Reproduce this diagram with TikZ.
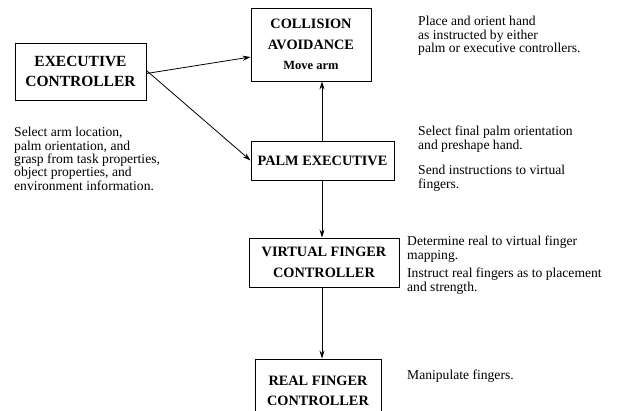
\documentclass[tikz,border=0pt]{standalone}
\usepackage{fontspec}
\setmainfont{Liberation Serif}
\usetikzlibrary{arrows.meta}
\begin{document}
\begin{tikzpicture}[x=1pt,y=-1pt,
  box/.style={draw,line width=0.9pt,align=center,inner sep=0pt,font=\bfseries\fontsize{14.3}{20.5}\selectfont},
  desc/.style={anchor=north west,align=left,inner sep=0pt,font=\fontsize{13.6}{13.4}\selectfont},
  arr/.style={line width=0.8pt,-{Stealth[length=8pt,width=5pt]}}]
\useasboundingbox (0,0) rectangle (624,411);
\clip (0,0) rectangle (624,411);
\node[box,minimum width=131pt,minimum height=57pt,font=\bfseries\fontsize{15.5}{20}\selectfont] (exec) at (80.5,71.5) {EXECUTIVE\\CONTROLLER};
\node[box,minimum width=120pt,minimum height=73pt] (coll) at (311,44.5) {COLLISION\\AVOIDANCE\\{\fontsize{12.5}{15}\selectfont Move arm}};
\node[box,minimum width=143pt,minimum height=39pt] (palm) at (322.5,160.5) {PALM EXECUTIVE};
\node[box,minimum width=150pt,minimum height=49pt] (virt) at (324,262.5) {VIRTUAL FINGER\\CONTROLLER};
\node[box,minimum width=126pt,minimum height=64pt] (real) at (318,391) {REAL FINGER\\CONTROLLER};
\draw[arr] ([yshift=-2pt]exec.east) -- ([yshift=-12.5pt]coll.west);
\draw[arr] ([yshift=1pt]exec.east) -- (palm.west);
\coordinate (pt) at ([xshift=-0.5pt]palm.north);
\draw[arr] (pt) -- (pt |- coll.south);
\coordinate (pb) at ([xshift=-0.5pt]palm.south);
\draw[arr] (pb) -- (pb |- virt.north);
\coordinate (vb) at (pb |- virt.south);
\draw[arr] (vb) -- (vb |- real.north);
\node[desc] (d1) at (14,127) {Select arm location,\\palm orientation, and\\grasp from task properties,\\object properties, and\\environment information.};
\node[desc] (d2) at (418,16) {Place and orient hand\\as instructed by either\\palm or executive controllers.};
\node[desc] (d3) at (418,126) {Select final palm orientation\\and preshape hand.};
\node[desc] (d4) at (418,165) {Send instructions to virtual\\fingers.};
\node[desc] (d5) at (407,236) {Determine real to virtual finger\\mapping.};
\node[desc] (d6) at (407,268) {Instruct real fingers as to placement\\and strength.};
\node[desc] (d7) at (407,370) {Manipulate fingers.};
\end{tikzpicture}
\end{document}
